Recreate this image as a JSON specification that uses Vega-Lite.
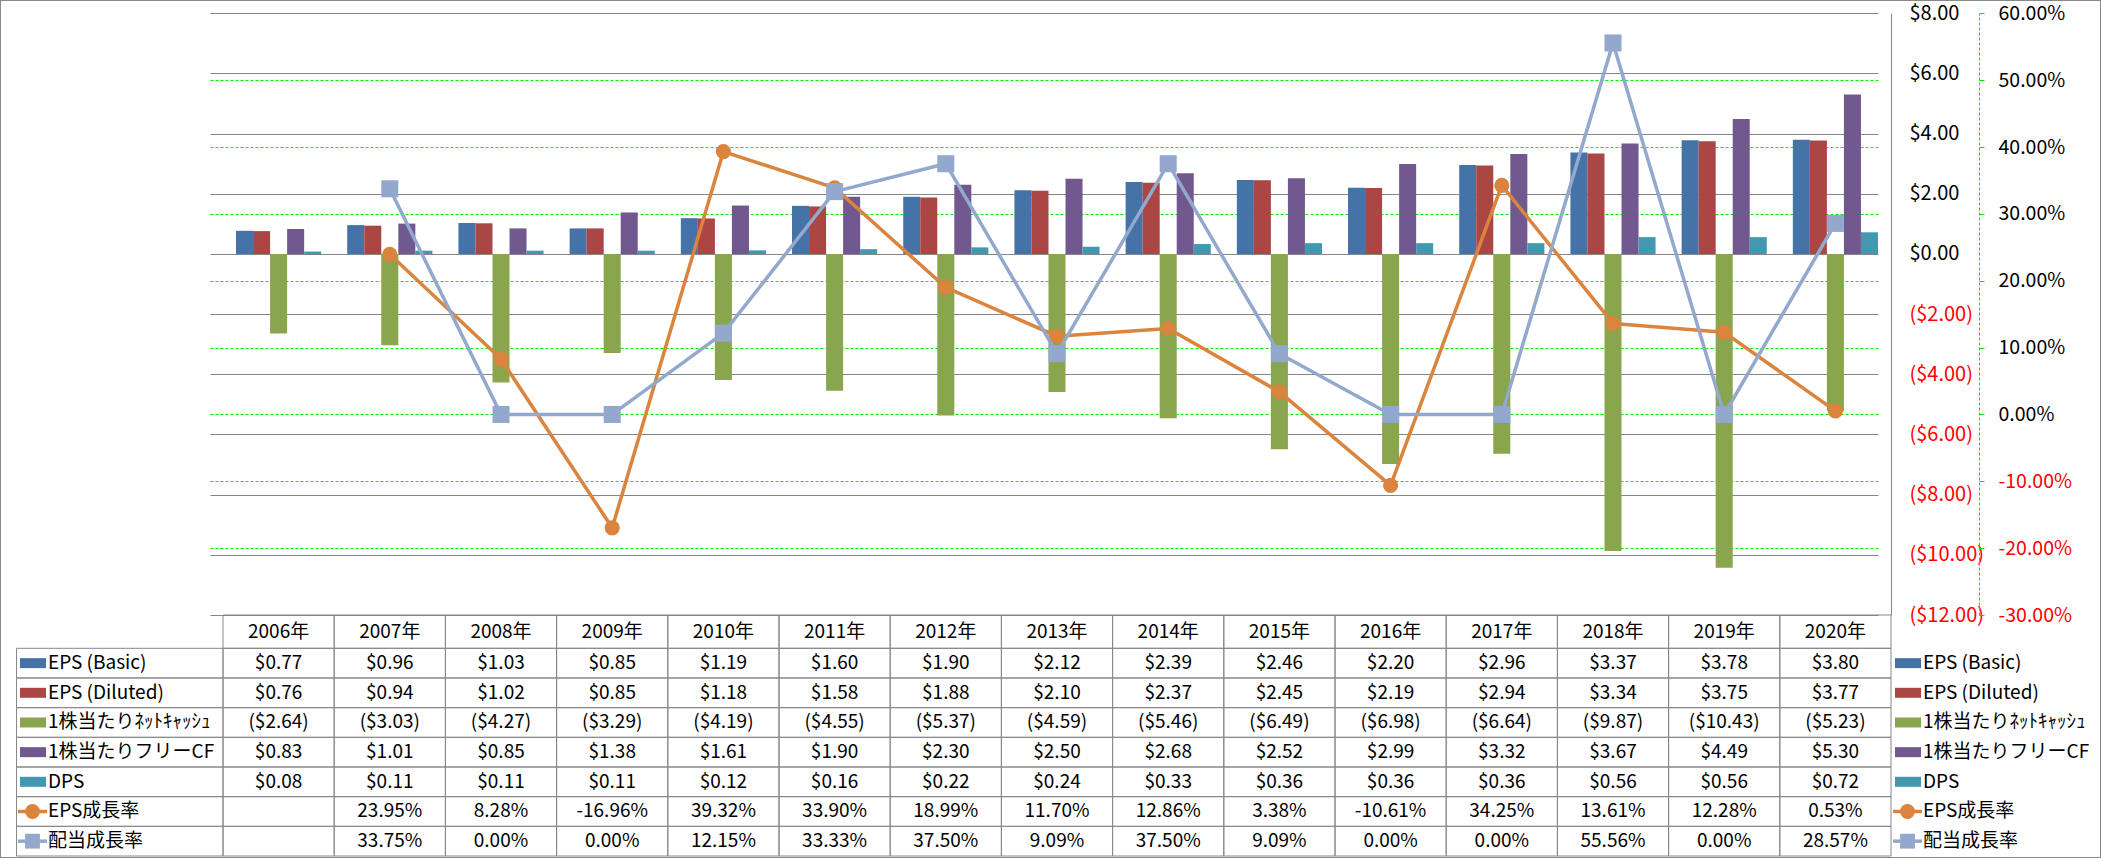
{
  "$schema": "https://vega.github.io/schema/vega-lite/v6.json",
  "width": 2101,
  "height": 858,
  "autosize": "none",
  "padding": 0,
  "background": "white",
  "config": {
    "view": {"stroke": "#888888", "strokeWidth": 2},
    "font": "Noto Sans CJK JP, sans-serif",
    "locale": {"number": {"decimal": ".", "thousands": ",", "grouping": [3], "currency": ["$", ""], "minus": "-"}}
  },
  "datasets": {
    "v": [
      {"year": "2006年", "series": "EPS (Basic)", "value": 0.77},
      {"year": "2007年", "series": "EPS (Basic)", "value": 0.96},
      {"year": "2008年", "series": "EPS (Basic)", "value": 1.03},
      {"year": "2009年", "series": "EPS (Basic)", "value": 0.85},
      {"year": "2010年", "series": "EPS (Basic)", "value": 1.19},
      {"year": "2011年", "series": "EPS (Basic)", "value": 1.60},
      {"year": "2012年", "series": "EPS (Basic)", "value": 1.90},
      {"year": "2013年", "series": "EPS (Basic)", "value": 2.12},
      {"year": "2014年", "series": "EPS (Basic)", "value": 2.39},
      {"year": "2015年", "series": "EPS (Basic)", "value": 2.46},
      {"year": "2016年", "series": "EPS (Basic)", "value": 2.20},
      {"year": "2017年", "series": "EPS (Basic)", "value": 2.96},
      {"year": "2018年", "series": "EPS (Basic)", "value": 3.37},
      {"year": "2019年", "series": "EPS (Basic)", "value": 3.78},
      {"year": "2020年", "series": "EPS (Basic)", "value": 3.80},
      {"year": "2006年", "series": "EPS (Diluted)", "value": 0.76},
      {"year": "2007年", "series": "EPS (Diluted)", "value": 0.94},
      {"year": "2008年", "series": "EPS (Diluted)", "value": 1.02},
      {"year": "2009年", "series": "EPS (Diluted)", "value": 0.85},
      {"year": "2010年", "series": "EPS (Diluted)", "value": 1.18},
      {"year": "2011年", "series": "EPS (Diluted)", "value": 1.58},
      {"year": "2012年", "series": "EPS (Diluted)", "value": 1.88},
      {"year": "2013年", "series": "EPS (Diluted)", "value": 2.10},
      {"year": "2014年", "series": "EPS (Diluted)", "value": 2.37},
      {"year": "2015年", "series": "EPS (Diluted)", "value": 2.45},
      {"year": "2016年", "series": "EPS (Diluted)", "value": 2.19},
      {"year": "2017年", "series": "EPS (Diluted)", "value": 2.94},
      {"year": "2018年", "series": "EPS (Diluted)", "value": 3.34},
      {"year": "2019年", "series": "EPS (Diluted)", "value": 3.75},
      {"year": "2020年", "series": "EPS (Diluted)", "value": 3.77},
      {"year": "2006年", "series": "1株当たりﾈｯﾄｷｬｯｼｭ", "value": -2.64},
      {"year": "2007年", "series": "1株当たりﾈｯﾄｷｬｯｼｭ", "value": -3.03},
      {"year": "2008年", "series": "1株当たりﾈｯﾄｷｬｯｼｭ", "value": -4.27},
      {"year": "2009年", "series": "1株当たりﾈｯﾄｷｬｯｼｭ", "value": -3.29},
      {"year": "2010年", "series": "1株当たりﾈｯﾄｷｬｯｼｭ", "value": -4.19},
      {"year": "2011年", "series": "1株当たりﾈｯﾄｷｬｯｼｭ", "value": -4.55},
      {"year": "2012年", "series": "1株当たりﾈｯﾄｷｬｯｼｭ", "value": -5.37},
      {"year": "2013年", "series": "1株当たりﾈｯﾄｷｬｯｼｭ", "value": -4.59},
      {"year": "2014年", "series": "1株当たりﾈｯﾄｷｬｯｼｭ", "value": -5.46},
      {"year": "2015年", "series": "1株当たりﾈｯﾄｷｬｯｼｭ", "value": -6.49},
      {"year": "2016年", "series": "1株当たりﾈｯﾄｷｬｯｼｭ", "value": -6.98},
      {"year": "2017年", "series": "1株当たりﾈｯﾄｷｬｯｼｭ", "value": -6.64},
      {"year": "2018年", "series": "1株当たりﾈｯﾄｷｬｯｼｭ", "value": -9.87},
      {"year": "2019年", "series": "1株当たりﾈｯﾄｷｬｯｼｭ", "value": -10.43},
      {"year": "2020年", "series": "1株当たりﾈｯﾄｷｬｯｼｭ", "value": -5.23},
      {"year": "2006年", "series": "1株当たりフリーCF", "value": 0.83},
      {"year": "2007年", "series": "1株当たりフリーCF", "value": 1.01},
      {"year": "2008年", "series": "1株当たりフリーCF", "value": 0.85},
      {"year": "2009年", "series": "1株当たりフリーCF", "value": 1.38},
      {"year": "2010年", "series": "1株当たりフリーCF", "value": 1.61},
      {"year": "2011年", "series": "1株当たりフリーCF", "value": 1.90},
      {"year": "2012年", "series": "1株当たりフリーCF", "value": 2.30},
      {"year": "2013年", "series": "1株当たりフリーCF", "value": 2.50},
      {"year": "2014年", "series": "1株当たりフリーCF", "value": 2.68},
      {"year": "2015年", "series": "1株当たりフリーCF", "value": 2.52},
      {"year": "2016年", "series": "1株当たりフリーCF", "value": 2.99},
      {"year": "2017年", "series": "1株当たりフリーCF", "value": 3.32},
      {"year": "2018年", "series": "1株当たりフリーCF", "value": 3.67},
      {"year": "2019年", "series": "1株当たりフリーCF", "value": 4.49},
      {"year": "2020年", "series": "1株当たりフリーCF", "value": 5.30},
      {"year": "2006年", "series": "DPS", "value": 0.08},
      {"year": "2007年", "series": "DPS", "value": 0.11},
      {"year": "2008年", "series": "DPS", "value": 0.11},
      {"year": "2009年", "series": "DPS", "value": 0.11},
      {"year": "2010年", "series": "DPS", "value": 0.12},
      {"year": "2011年", "series": "DPS", "value": 0.16},
      {"year": "2012年", "series": "DPS", "value": 0.22},
      {"year": "2013年", "series": "DPS", "value": 0.24},
      {"year": "2014年", "series": "DPS", "value": 0.33},
      {"year": "2015年", "series": "DPS", "value": 0.36},
      {"year": "2016年", "series": "DPS", "value": 0.36},
      {"year": "2017年", "series": "DPS", "value": 0.36},
      {"year": "2018年", "series": "DPS", "value": 0.56},
      {"year": "2019年", "series": "DPS", "value": 0.56},
      {"year": "2020年", "series": "DPS", "value": 0.72},
      {"year": "2006年", "series": "EPS成長率", "value": null},
      {"year": "2007年", "series": "EPS成長率", "value": 0.2395},
      {"year": "2008年", "series": "EPS成長率", "value": 0.0828},
      {"year": "2009年", "series": "EPS成長率", "value": -0.1696},
      {"year": "2010年", "series": "EPS成長率", "value": 0.3932},
      {"year": "2011年", "series": "EPS成長率", "value": 0.339},
      {"year": "2012年", "series": "EPS成長率", "value": 0.1899},
      {"year": "2013年", "series": "EPS成長率", "value": 0.117},
      {"year": "2014年", "series": "EPS成長率", "value": 0.1286},
      {"year": "2015年", "series": "EPS成長率", "value": 0.0338},
      {"year": "2016年", "series": "EPS成長率", "value": -0.1061},
      {"year": "2017年", "series": "EPS成長率", "value": 0.3425},
      {"year": "2018年", "series": "EPS成長率", "value": 0.1361},
      {"year": "2019年", "series": "EPS成長率", "value": 0.1228},
      {"year": "2020年", "series": "EPS成長率", "value": 0.0053},
      {"year": "2006年", "series": "配当成長率", "value": null},
      {"year": "2007年", "series": "配当成長率", "value": 0.3375},
      {"year": "2008年", "series": "配当成長率", "value": 0},
      {"year": "2009年", "series": "配当成長率", "value": 0},
      {"year": "2010年", "series": "配当成長率", "value": 0.1215},
      {"year": "2011年", "series": "配当成長率", "value": 0.3333},
      {"year": "2012年", "series": "配当成長率", "value": 0.375},
      {"year": "2013年", "series": "配当成長率", "value": 0.0909},
      {"year": "2014年", "series": "配当成長率", "value": 0.375},
      {"year": "2015年", "series": "配当成長率", "value": 0.0909},
      {"year": "2016年", "series": "配当成長率", "value": 0},
      {"year": "2017年", "series": "配当成長率", "value": 0},
      {"year": "2018年", "series": "配当成長率", "value": 0.5556},
      {"year": "2019年", "series": "配当成長率", "value": 0},
      {"year": "2020年", "series": "配当成長率", "value": 0.2857}
    ],
    "s": [
      {"series": "EPS (Basic)"},
      {"series": "EPS (Diluted)"},
      {"series": "1株当たりﾈｯﾄｷｬｯｼｭ"},
      {"series": "1株当たりフリーCF"},
      {"series": "DPS"},
      {"series": "EPS成長率"},
      {"series": "配当成長率"}
    ]
  },
  "resolve": {"scale": {"x": "independent", "y": "independent", "xOffset": "independent"}, "axis": {"x": "independent", "y": "independent"}},
  "layer": [
    {
      "data": {"name": "v"},
      "transform": [{"filter": {"field": "series", "oneOf": ["EPS (Basic)", "EPS (Diluted)", "1株当たりﾈｯﾄｷｬｯｼｭ", "1株当たりフリーCF", "DPS"]}}],
      "mark": {"type": "bar"},
      "encoding": {
        "x": {"field": "year", "type": "nominal", "axis": null, "scale": {"domain": ["2006年","2007年","2008年","2009年","2010年","2011年","2012年","2013年","2014年","2015年","2016年","2017年","2018年","2019年","2020年"], "range": [223, 1891], "paddingInner": 0, "paddingOuter": 0}},
        "xOffset": {"field": "series", "type": "nominal", "scale": {"domain": ["EPS (Basic)", "EPS (Diluted)", "1株当たりﾈｯﾄｷｬｯｼｭ", "1株当たりフリーCF", "DPS"], "paddingInner": 0, "paddingOuter": 0.765}},
        "y": {"field": "value", "type": "quantitative", "stack": null,
          "scale": {"domain": [-12, 8], "range": [615, 13.3], "nice": false, "zero": false},
          "axis": {"orient": "right", "offset": -210, "values": [-12, -10, -8, -6, -4, -2, 0, 2, 4, 6, 8], "format": "($.2f", "title": null,
            "ticks": false, "tickSize": 0, "labelPadding": 18, "labelAlign": "left", "labelFont": "Noto Sans CJK JP", "labelFontSize": 20,
            "labelColor": {"condition": {"test": "datum.value < 0", "value": "#FF0000"}, "value": "#000000"},
            "domain": true, "domainColor": "#868686", "domainWidth": 1,
            "grid": true, "gridColor": "#868686", "gridWidth": 1,
            "labelOverlap": false, "labelFlush": false, "labelBound": false}},
        "color": {"field": "series", "type": "nominal", "legend": null,
          "scale": {"domain": ["EPS (Basic)", "EPS (Diluted)", "1株当たりﾈｯﾄｷｬｯｼｭ", "1株当たりフリーCF", "DPS", "EPS成長率", "配当成長率"], "range": ["#4572A7", "#AA4643", "#89A54E", "#71588F", "#4198AF", "#DB843D", "#92A8CD"]}}
      }
    },
    {
      "data": {"name": "v"},
      "transform": [{"filter": {"field": "series", "equal": "EPS成長率"}}],
      "mark": {"type": "line", "strokeWidth": 3.5, "color": "#DB843D", "strokeJoin": "round"},
      "encoding": {
        "x": {"field": "year", "type": "nominal", "axis": null, "scale": {"domain": ["2006年","2007年","2008年","2009年","2010年","2011年","2012年","2013年","2014年","2015年","2016年","2017年","2018年","2019年","2020年"], "range": [223, 1891], "paddingInner": 0, "paddingOuter": 0}},
        "y": {"field": "value", "type": "quantitative",
          "scale": {"domain": [-0.3, 0.6], "range": [615, 13.3], "nice": false, "zero": false},
          "axis": {"orient": "right", "offset": -122, "values": [-0.3, -0.2, -0.1, 0, 0.1, 0.2, 0.3, 0.4, 0.5, 0.6], "format": ".2%", "title": null,
            "ticks": true, "tickSize": 5, "tickColor": "#00E000", "tickWidth": 1, "labelPadding": 14, "labelAlign": "left",
            "labelFont": "Noto Sans CJK JP", "labelFontSize": 19.5,
            "labelColor": {"condition": {"test": "datum.value < 0", "value": "#FF0000"}, "value": "#000000"},
            "domain": true, "domainColor": "#00E000", "domainDash": [3, 2], "domainWidth": 1,
            "grid": true, "gridColor": "#00EE00", "gridDash": [3, 2], "gridWidth": 1,
            "gridOpacity": {"condition": {"test": "datum.value > 0.55 || datum.value < -0.25", "value": 0}, "value": 1},
            "labelOverlap": false, "labelFlush": false, "labelBound": false}}
      }
    },
    {
      "data": {"name": "v"},
      "transform": [{"filter": {"field": "series", "equal": "EPS成長率"}}],
      "mark": {"type": "point", "filled": true, "shape": "circle", "size": 230, "opacity": 1, "color": "#DB843D"},
      "encoding": {
        "x": {"field": "year", "type": "nominal", "axis": null, "scale": {"domain": ["2006年","2007年","2008年","2009年","2010年","2011年","2012年","2013年","2014年","2015年","2016年","2017年","2018年","2019年","2020年"], "range": [223, 1891], "paddingInner": 0, "paddingOuter": 0}},
        "y": {"field": "value", "type": "quantitative", "axis": null, "scale": {"domain": [-0.3, 0.6], "range": [615, 13.3], "nice": false, "zero": false}}
      }
    },
    {
      "data": {"name": "v"},
      "transform": [{"filter": {"field": "series", "equal": "配当成長率"}}],
      "mark": {"type": "line", "strokeWidth": 3.5, "color": "#92A8CD", "strokeJoin": "round"},
      "encoding": {
        "x": {"field": "year", "type": "nominal", "axis": null, "scale": {"domain": ["2006年","2007年","2008年","2009年","2010年","2011年","2012年","2013年","2014年","2015年","2016年","2017年","2018年","2019年","2020年"], "range": [223, 1891], "paddingInner": 0, "paddingOuter": 0}},
        "y": {"field": "value", "type": "quantitative", "axis": null, "scale": {"domain": [-0.3, 0.6], "range": [615, 13.3], "nice": false, "zero": false}}
      }
    },
    {
      "data": {"name": "v"},
      "transform": [{"filter": {"field": "series", "equal": "配当成長率"}}],
      "mark": {"type": "point", "filled": true, "shape": "square", "size": 290, "opacity": 1, "color": "#92A8CD"},
      "encoding": {
        "x": {"field": "year", "type": "nominal", "axis": null, "scale": {"domain": ["2006年","2007年","2008年","2009年","2010年","2011年","2012年","2013年","2014年","2015年","2016年","2017年","2018年","2019年","2020年"], "range": [223, 1891], "paddingInner": 0, "paddingOuter": 0}},
        "y": {"field": "value", "type": "quantitative", "axis": null, "scale": {"domain": [-0.3, 0.6], "range": [615, 13.3], "nice": false, "zero": false}}
      }
    },
    {
      "data": {"name": "v"},
      "transform": [{"filter": {"field": "series", "equal": "EPS (Basic)"}}],
      "mark": {"type": "rect", "fill": "transparent", "stroke": "#888888", "strokeWidth": 1},
      "encoding": {
        "x": {"field": "year", "type": "nominal", "axis": null, "scale": {"domain": ["2006年","2007年","2008年","2009年","2010年","2011年","2012年","2013年","2014年","2015年","2016年","2017年","2018年","2019年","2020年"], "range": [223, 1891], "paddingInner": 0, "paddingOuter": 0}},
        "y": {"datum": "h", "type": "nominal", "axis": null, "scale": {"domain": ["h"], "range": [615, 648.3], "paddingInner": 0, "paddingOuter": 0}}
      }
    },
    {
      "data": {"name": "v"},
      "transform": [{"filter": {"field": "series", "equal": "EPS (Basic)"}}],
      "mark": {"type": "text", "fontSize": 19, "color": "#000000", "baseline": "middle", "font": "Noto Sans CJK JP"},
      "encoding": {
        "x": {"field": "year", "type": "nominal", "axis": null, "scale": {"domain": ["2006年","2007年","2008年","2009年","2010年","2011年","2012年","2013年","2014年","2015年","2016年","2017年","2018年","2019年","2020年"], "range": [223, 1891], "paddingInner": 0, "paddingOuter": 0}},
        "y": {"datum": "h", "type": "nominal", "axis": null, "scale": {"domain": ["h"], "range": [615, 648.3], "paddingInner": 0, "paddingOuter": 0}},
        "text": {"field": "year", "type": "nominal"}
      }
    },
    {
      "data": {"name": "v"},
      "mark": {"type": "rect", "fill": "transparent", "stroke": "#888888", "strokeWidth": 1},
      "encoding": {
        "x": {"field": "year", "type": "nominal", "axis": null, "scale": {"domain": ["2006年","2007年","2008年","2009年","2010年","2011年","2012年","2013年","2014年","2015年","2016年","2017年","2018年","2019年","2020年"], "range": [223, 1891], "paddingInner": 0, "paddingOuter": 0}},
        "y": {"field": "series", "type": "nominal", "axis": null, "scale": {"domain": ["EPS (Basic)", "EPS (Diluted)", "1株当たりﾈｯﾄｷｬｯｼｭ", "1株当たりフリーCF", "DPS", "EPS成長率", "配当成長率"], "range": [648.3, 856], "paddingInner": 0, "paddingOuter": 0}}
      }
    },
    {
      "data": {"name": "v"},
      "transform": [{"filter": {"field": "series", "oneOf": ["EPS (Basic)", "EPS (Diluted)", "1株当たりﾈｯﾄｷｬｯｼｭ", "1株当たりフリーCF", "DPS"]}}],
      "mark": {"type": "text", "fontSize": 19, "color": "#000000", "baseline": "middle", "font": "Noto Sans CJK JP"},
      "encoding": {
        "x": {"field": "year", "type": "nominal", "axis": null, "scale": {"domain": ["2006年","2007年","2008年","2009年","2010年","2011年","2012年","2013年","2014年","2015年","2016年","2017年","2018年","2019年","2020年"], "range": [223, 1891], "paddingInner": 0, "paddingOuter": 0}},
        "y": {"field": "series", "type": "nominal", "axis": null, "scale": {"domain": ["EPS (Basic)", "EPS (Diluted)", "1株当たりﾈｯﾄｷｬｯｼｭ", "1株当たりフリーCF", "DPS", "EPS成長率", "配当成長率"], "range": [648.3, 856], "paddingInner": 0, "paddingOuter": 0}},
        "text": {"field": "value", "type": "quantitative", "format": "($.2f"}
      }
    },
    {
      "data": {"name": "v"},
      "transform": [{"filter": {"field": "series", "oneOf": ["EPS成長率", "配当成長率"]}}, {"filter": "isValid(datum.value)"}],
      "mark": {"type": "text", "fontSize": 19, "color": "#000000", "baseline": "middle", "font": "Noto Sans CJK JP"},
      "encoding": {
        "x": {"field": "year", "type": "nominal", "axis": null, "scale": {"domain": ["2006年","2007年","2008年","2009年","2010年","2011年","2012年","2013年","2014年","2015年","2016年","2017年","2018年","2019年","2020年"], "range": [223, 1891], "paddingInner": 0, "paddingOuter": 0}},
        "y": {"field": "series", "type": "nominal", "axis": null, "scale": {"domain": ["EPS (Basic)", "EPS (Diluted)", "1株当たりﾈｯﾄｷｬｯｼｭ", "1株当たりフリーCF", "DPS", "EPS成長率", "配当成長率"], "range": [648.3, 856], "paddingInner": 0, "paddingOuter": 0}},
        "text": {"field": "value", "type": "quantitative", "format": ".2%"}
      }
    },
    {
      "data": {"name": "s"},
      "mark": {"type": "rect", "fill": "transparent", "stroke": "#888888", "strokeWidth": 1},
      "encoding": {
        "x": {"datum": 0, "type": "quantitative", "axis": null, "scale": {"domain": [0, 1], "range": [16.5, 223], "nice": false, "zero": false}},
        "x2": {"datum": 1},
        "y": {"field": "series", "type": "nominal", "axis": null, "scale": {"domain": ["EPS (Basic)", "EPS (Diluted)", "1株当たりﾈｯﾄｷｬｯｼｭ", "1株当たりフリーCF", "DPS", "EPS成長率", "配当成長率"], "range": [648.3, 856], "paddingInner": 0, "paddingOuter": 0}}
      }
    },
    {
      "data": {"name": "s"},
      "transform": [{"filter": {"field": "series", "oneOf": ["EPS (Basic)", "EPS (Diluted)", "1株当たりﾈｯﾄｷｬｯｼｭ", "1株当たりフリーCF", "DPS"]}}],
      "mark": {"type": "rect", "height": 10},
      "encoding": {
        "x": {"datum": 0, "type": "quantitative", "axis": null, "scale": {"domain": [0, 1], "range": [20, 46], "nice": false, "zero": false}},
        "x2": {"datum": 1},
        "y": {"field": "series", "type": "nominal", "axis": null, "scale": {"domain": ["EPS (Basic)", "EPS (Diluted)", "1株当たりﾈｯﾄｷｬｯｼｭ", "1株当たりフリーCF", "DPS", "EPS成長率", "配当成長率"], "range": [648.3, 856], "paddingInner": 0, "paddingOuter": 0}},
        "color": {"field": "series", "type": "nominal", "legend": null}
      }
    },
    {
      "data": {"name": "s"},
      "transform": [{"filter": {"field": "series", "oneOf": ["EPS成長率", "配当成長率"]}}],
      "mark": {"type": "rule", "strokeWidth": 3.5},
      "encoding": {
        "x": {"datum": 0, "type": "quantitative", "axis": null, "scale": {"domain": [0, 1], "range": [18, 47], "nice": false, "zero": false}},
        "x2": {"datum": 1},
        "y": {"field": "series", "type": "nominal", "axis": null, "scale": {"domain": ["EPS (Basic)", "EPS (Diluted)", "1株当たりﾈｯﾄｷｬｯｼｭ", "1株当たりフリーCF", "DPS", "EPS成長率", "配当成長率"], "range": [648.3, 856], "paddingInner": 0, "paddingOuter": 0}},
        "color": {"field": "series", "type": "nominal", "legend": null}
      }
    },
    {
      "data": {"name": "s"},
      "transform": [{"filter": {"field": "series", "oneOf": ["EPS成長率", "配当成長率"]}}],
      "mark": {"type": "point", "filled": true, "opacity": 1, "size": 220},
      "encoding": {
        "x": {"datum": 0.5, "type": "quantitative", "axis": null, "scale": {"domain": [0, 1], "range": [18, 47], "nice": false, "zero": false}},
        "y": {"field": "series", "type": "nominal", "axis": null, "scale": {"domain": ["EPS (Basic)", "EPS (Diluted)", "1株当たりﾈｯﾄｷｬｯｼｭ", "1株当たりフリーCF", "DPS", "EPS成長率", "配当成長率"], "range": [648.3, 856], "paddingInner": 0, "paddingOuter": 0}},
        "color": {"field": "series", "type": "nominal", "legend": null},
        "shape": {"field": "series", "type": "nominal", "legend": null, "scale": {"domain": ["EPS成長率", "配当成長率"], "range": ["circle", "square"]}}
      }
    },
    {
      "data": {"name": "s"},
      "mark": {"type": "text", "align": "left", "baseline": "middle", "fontSize": 19, "dx": 1, "color": "#000000", "font": "Noto Sans CJK JP"},
      "encoding": {
        "x": {"datum": 1, "type": "quantitative", "axis": null, "scale": {"domain": [0, 1], "range": [18, 47], "nice": false, "zero": false}},
        "y": {"field": "series", "type": "nominal", "axis": null, "scale": {"domain": ["EPS (Basic)", "EPS (Diluted)", "1株当たりﾈｯﾄｷｬｯｼｭ", "1株当たりフリーCF", "DPS", "EPS成長率", "配当成長率"], "range": [648.3, 856], "paddingInner": 0, "paddingOuter": 0}},
        "text": {"field": "series", "type": "nominal"}
      }
    },
    {
      "data": {"name": "s"},
      "transform": [{"filter": {"field": "series", "oneOf": ["EPS (Basic)", "EPS (Diluted)", "1株当たりﾈｯﾄｷｬｯｼｭ", "1株当たりフリーCF", "DPS"]}}],
      "mark": {"type": "rect", "height": 10},
      "encoding": {
        "x": {"datum": 0, "type": "quantitative", "axis": null, "scale": {"domain": [0, 1], "range": [1895, 1921], "nice": false, "zero": false}},
        "x2": {"datum": 1},
        "y": {"field": "series", "type": "nominal", "axis": null, "scale": {"domain": ["EPS (Basic)", "EPS (Diluted)", "1株当たりﾈｯﾄｷｬｯｼｭ", "1株当たりフリーCF", "DPS", "EPS成長率", "配当成長率"], "range": [648.3, 856], "paddingInner": 0, "paddingOuter": 0}},
        "color": {"field": "series", "type": "nominal", "legend": null}
      }
    },
    {
      "data": {"name": "s"},
      "transform": [{"filter": {"field": "series", "oneOf": ["EPS成長率", "配当成長率"]}}],
      "mark": {"type": "rule", "strokeWidth": 3.5},
      "encoding": {
        "x": {"datum": 0, "type": "quantitative", "axis": null, "scale": {"domain": [0, 1], "range": [1893, 1922], "nice": false, "zero": false}},
        "x2": {"datum": 1},
        "y": {"field": "series", "type": "nominal", "axis": null, "scale": {"domain": ["EPS (Basic)", "EPS (Diluted)", "1株当たりﾈｯﾄｷｬｯｼｭ", "1株当たりフリーCF", "DPS", "EPS成長率", "配当成長率"], "range": [648.3, 856], "paddingInner": 0, "paddingOuter": 0}},
        "color": {"field": "series", "type": "nominal", "legend": null}
      }
    },
    {
      "data": {"name": "s"},
      "transform": [{"filter": {"field": "series", "oneOf": ["EPS成長率", "配当成長率"]}}],
      "mark": {"type": "point", "filled": true, "opacity": 1, "size": 220},
      "encoding": {
        "x": {"datum": 0.5, "type": "quantitative", "axis": null, "scale": {"domain": [0, 1], "range": [1893, 1922], "nice": false, "zero": false}},
        "y": {"field": "series", "type": "nominal", "axis": null, "scale": {"domain": ["EPS (Basic)", "EPS (Diluted)", "1株当たりﾈｯﾄｷｬｯｼｭ", "1株当たりフリーCF", "DPS", "EPS成長率", "配当成長率"], "range": [648.3, 856], "paddingInner": 0, "paddingOuter": 0}},
        "color": {"field": "series", "type": "nominal", "legend": null},
        "shape": {"field": "series", "type": "nominal", "legend": null, "scale": {"domain": ["EPS成長率", "配当成長率"], "range": ["circle", "square"]}}
      }
    },
    {
      "data": {"name": "s"},
      "mark": {"type": "text", "align": "left", "baseline": "middle", "fontSize": 19, "dx": 1, "color": "#000000", "font": "Noto Sans CJK JP"},
      "encoding": {
        "x": {"datum": 1, "type": "quantitative", "axis": null, "scale": {"domain": [0, 1], "range": [1893, 1922], "nice": false, "zero": false}},
        "y": {"field": "series", "type": "nominal", "axis": null, "scale": {"domain": ["EPS (Basic)", "EPS (Diluted)", "1株当たりﾈｯﾄｷｬｯｼｭ", "1株当たりフリーCF", "DPS", "EPS成長率", "配当成長率"], "range": [648.3, 856], "paddingInner": 0, "paddingOuter": 0}},
        "text": {"field": "series", "type": "nominal"}
      }
    }
  ]
}
